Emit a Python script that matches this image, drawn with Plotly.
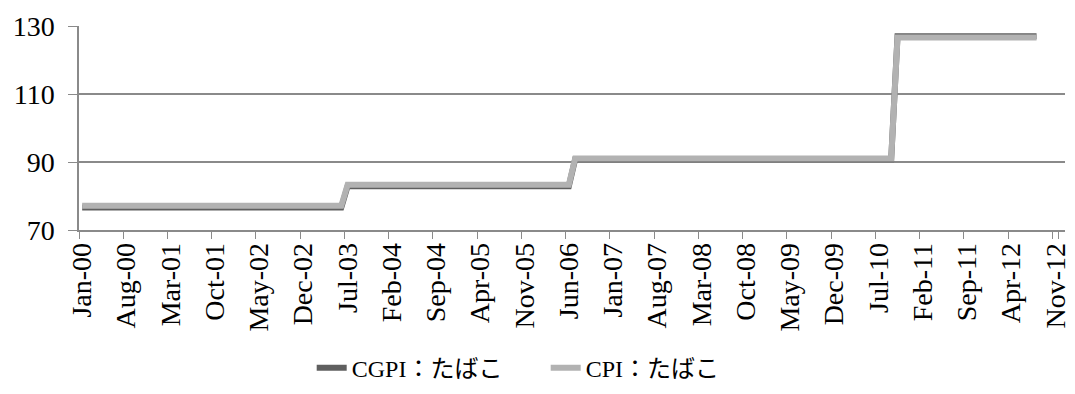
import plotly.graph_objects as go

# Monthly category axis: Jan-00 .. Dec-12
month_names = ["Jan", "Feb", "Mar", "Apr", "May", "Jun",
               "Jul", "Aug", "Sep", "Oct", "Nov", "Dec"]
years = list(range(0, 13))
categories = [f"{m}-{y:02d}" for y in years for m in month_names]

# Price levels per period (Jan-00..Jun-03, Jul-03..Jun-06, Jul-06..Sep-10, Oct-10..Aug-12)
period_lengths = [42, 36, 51, 23]
cgpi_levels = [76.6, 82.9, 90.8, 127.0]
cpi_levels = [77.1, 83.3, 91.0, 126.6]

cgpi = [v for v, n in zip(cgpi_levels, period_lengths) for _ in range(n)]
cpi = [v for v, n in zip(cpi_levels, period_lengths) for _ in range(n)]
data_months = categories[:len(cpi)]

tick_labels = categories[::7]
y_ticks = [70, 90, 110, 130]

FONT = "Liberation Serif, 'Noto Sans CJK JP', serif"
GRID = "#8a8a8a"

fig = go.Figure()
fig.add_trace(go.Scatter(
    x=data_months, y=cgpi, mode="lines", name="CGPI：たばこ",
    line=dict(color="#5f5f5f", width=6),
))
fig.add_trace(go.Scatter(
    x=data_months, y=cpi, mode="lines", name="CPI：たばこ",
    line=dict(color="#b2b2b2", width=6),
))

fig.update_layout(
    width=1075, height=394,
    margin=dict(l=79, r=4, t=26, b=162),
    paper_bgcolor="white", plot_bgcolor="white",
    font=dict(family=FONT, color="black"),
    showlegend=True,
    legend=dict(orientation="h", x=0.236, xanchor="left", y=-0.677,
                yanchor="middle", font=dict(size=24, family=FONT),
                entrywidth=189, entrywidthmode="pixels",
                bgcolor="rgba(0,0,0,0)"),
)
fig.update_xaxes(
    type="category", categoryorder="array", categoryarray=categories,
    range=[-0.5, len(categories) - 0.5],
    tickmode="array", tickvals=tick_labels, ticktext=tick_labels,
    tickson="boundaries", ticks="outside", ticklen=7, tickcolor=GRID,
    tickangle=-90, tickfont=dict(size=28, family=FONT),
    showline=True, linecolor=GRID, linewidth=1.5, showgrid=False,
    zeroline=False,
)
fig.update_yaxes(
    range=[70, 130], tickmode="array", tickvals=y_ticks,
    ticks="outside", ticklen=9, tickcolor=GRID,
    tickfont=dict(size=28, family=FONT), ticklabelstandoff=8,
    showgrid=True, gridcolor=GRID, gridwidth=1.5,
    showline=True, linecolor=GRID, linewidth=1.5, zeroline=False,
)

fig.write_html("out.html")
